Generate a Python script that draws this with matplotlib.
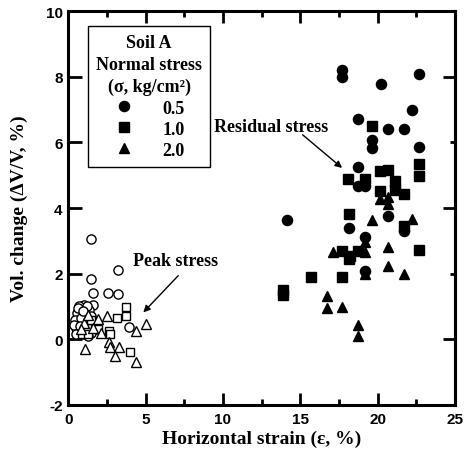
import matplotlib
matplotlib.use("Agg")
import matplotlib.pyplot as plt
from matplotlib.ticker import MultipleLocator, FixedLocator

plt.rcParams["axes.unicode_minus"] = False

# ---- data: horizontal strain (%) and volume change (%) ----
# residual stress (filled markers)
res_05_x = [17.7, 17.7, 18.7, 22.7, 20.2, 22.2, 20.7, 21.7, 19.65, 19.65, 22.7, 18.7,
            18.7, 19.2, 20.7, 18.15, 21.7, 19.2, 14.15, 19.2]
res_05_y = [8.2, 8.0, 6.72, 8.07, 7.78, 6.97, 6.41, 6.41, 6.08, 5.83, 5.85, 5.24,
            4.68, 4.68, 3.77, 3.39, 3.3, 3.12, 3.62, 2.09]
res_10_x = [19.65, 18.1, 19.2, 20.15, 20.7, 22.7, 22.7, 20.15, 21.1, 21.1, 21.7, 18.15,
            21.7, 17.7, 18.2, 18.7, 18.15, 22.7, 15.7, 17.7, 13.85, 13.85]
res_10_y = [6.51, 4.87, 4.89, 5.14, 5.17, 5.34, 4.98, 4.53, 4.82, 4.55, 4.43, 3.82,
            3.45, 2.7, 2.55, 2.7, 2.45, 2.73, 1.89, 1.89, 1.5, 1.35]
res_20_x = [20.15, 20.7, 20.7, 19.65, 22.2, 19.2, 17.1, 19.2, 20.7, 20.7, 21.7, 19.2,
            16.7, 16.7, 17.7, 18.7, 18.7]
res_20_y = [4.28, 4.33, 4.12, 3.62, 3.67, 2.97, 2.65, 2.65, 2.8, 2.24, 1.99, 1.99,
            1.33, 0.94, 0.98, 0.44, 0.11]

# peak stress (open markers)
peak_05_x = [1.5, 3.2, 1.5, 1.6, 2.55, 3.2, 1.6, 3.95,
             0.5, 0.6, 0.7, 0.8, 0.9, 1.0, 1.1, 0.75, 0.9, 1.0, 1.2, 1.3, 1.15, 0.65,
             0.85, 1.05, 1.25, 1.4, 0.55, 1.6, 1.7, 1.5, 0.95, 1.35, 0.7, 1.8, 0.45, 1.1,
             0.35, 0.6, 0.85, 1.0, 1.2, 0.75, 1.45, 0.5, 1.25, 0.95]
peak_05_y = [3.05, 2.1, 1.85, 1.4, 1.4, 1.38, 1.05, 0.38,
             0.35, 0.5, 0.75, 0.9, 1.0, 1.05, 0.95, 0.6, 0.45, 0.7, 0.8, 0.6, 0.4, 0.2,
             0.25, 0.2, 0.3, 0.45, 0.8, 0.55, 0.3, 0.2, 0.15, 0.9, 1.0, 0.5, 0.6, 0.55,
             0.45, 0.95, 0.65, 0.35, 1.0, 0.4, 0.7, 0.15, 0.1, 0.85]
peak_10_x = [3.7, 3.7, 3.15, 2.6, 2.7, 0.9, 4.0, 1.2, 1.5, 1.9, 1.3]
peak_10_y = [0.98, 0.72, 0.65, 0.25, 0.17, 0.16, -0.4, 0.35, 0.6, 0.3, 0.15]
peak_20_x = [2.5, 1.95, 4.4, 5.05, 1.1, 2.65, 2.7, 3.25, 3.05, 4.4, 1.0, 1.3, 0.8, 1.6, 2.1]
peak_20_y = [0.7, 0.62, 0.26, 0.47, -0.3, -0.08, -0.24, -0.22, -0.5, -0.7, 0.5, 0.75,
             0.3, 0.35, 0.2]

legend_labels = ["0.5", "1.0", "2.0"]

serif = ["Liberation Serif", "DejaVu Serif"]
sans = ["Liberation Sans", "DejaVu Sans"]

fig = plt.figure(figsize=(4.7, 4.6), dpi=100)
ax = fig.add_axes([0.1453, 0.1174, 0.8227, 0.8565])

ms_f = 7.3
ms_o = 6.6
ax.plot(res_05_x, res_05_y, "o", color="black", ms=ms_f, mec="black", label=legend_labels[0])
ax.plot(res_10_x, res_10_y, "s", color="black", ms=ms_f * 0.92, mec="black", label=legend_labels[1])
ax.plot(res_20_x, res_20_y, "^", color="black", ms=ms_f * 1.05, mec="black", label=legend_labels[2])

ax.plot(peak_05_x, peak_05_y, "o", mfc="white", mec="black", mew=1.0, ms=ms_o)
ax.plot(peak_10_x, peak_10_y, "s", mfc="white", mec="black", mew=1.0, ms=ms_o * 0.92)
ax.plot(peak_20_x, peak_20_y, "^", mfc="white", mec="black", mew=1.0, ms=ms_o * 1.05)

ax.set_xlim(0, 25)
ax.set_ylim(-2, 10)

for s in ax.spines.values():
    s.set_linewidth(2.2)

ax.xaxis.set_major_locator(MultipleLocator(5))
ax.xaxis.set_minor_locator(MultipleLocator(2.5))
ax.yaxis.set_major_locator(MultipleLocator(2))
ax.tick_params(axis="x", which="major", direction="in", length=8.6, width=2.0,
               top=True, pad=5)
ax.tick_params(axis="x", which="minor", direction="in", length=4.5, width=2.0, top=True)
ax.tick_params(axis="y", which="major", direction="in", length=10, width=2.0,
               right=False, pad=4)
ax.tick_params(axis="y", which="minor", left=False, right=False)

for lab in ax.get_xticklabels() + ax.get_yticklabels():
    lab.set_fontfamily(sans)
    lab.set_fontweight("bold")
    lab.set_fontsize(11)

sec = ax.secondary_yaxis("right")
sec.yaxis.set_major_locator(FixedLocator([0, 4, 8]))
sec.yaxis.set_minor_locator(FixedLocator([2, 6]))
sec.tick_params(which="major", direction="in", length=8.6, width=2.0, labelright=False)
sec.tick_params(which="minor", direction="in", length=3.8, width=2.0)
sec.spines["right"].set_linewidth(2.2)

ax.set_xlabel("Horizontal strain (\u03b5, %)", fontfamily=serif, fontweight="bold",
              fontsize=14, labelpad=3)
ax.set_ylabel("Vol. change (\u0394V/V, %)", fontfamily=serif, fontweight="bold",
              fontsize=14, labelpad=13)

leg = ax.legend(title="Soil A\nNormal stress\n(\u03c3, kg/cm\u00b2)",
                loc="upper left", bbox_to_anchor=(0.051, 0.962), borderaxespad=0,
                frameon=True, fancybox=False, edgecolor="black", framealpha=1,
                prop={"family": serif, "weight": "bold", "size": 13},
                title_fontproperties={"family": serif, "weight": "bold", "size": 13},
                handlelength=1.2, handletextpad=1.5, labelspacing=0.22,
                borderpad=0.45, markerscale=1.0)
leg.get_title().set_multialignment("center")
leg.get_title().set_linespacing(1.38)
leg.get_frame().set_linewidth(1.0)
leg._legend_box.sep = 3

ax.text(13.1, 6.47, "Residual stress", fontfamily=serif, fontweight="bold",
        fontsize=13, ha="center", va="center")
ax.annotate("", xy=(17.7, 5.22), xytext=(15.15, 6.23),
            arrowprops=dict(arrowstyle="-|>", color="black", lw=1.0,
                            mutation_scale=10, shrinkA=0, shrinkB=0))
ax.text(6.93, 2.40, "Peak stress", fontfamily=serif, fontweight="bold",
        fontsize=13, ha="center", va="center")
ax.annotate("", xy=(4.85, 0.82), xytext=(7.11, 1.94),
            arrowprops=dict(arrowstyle="-|>", color="black", lw=1.0,
                            mutation_scale=10, shrinkA=0, shrinkB=0))

fig.savefig("out.png", dpi=100)
